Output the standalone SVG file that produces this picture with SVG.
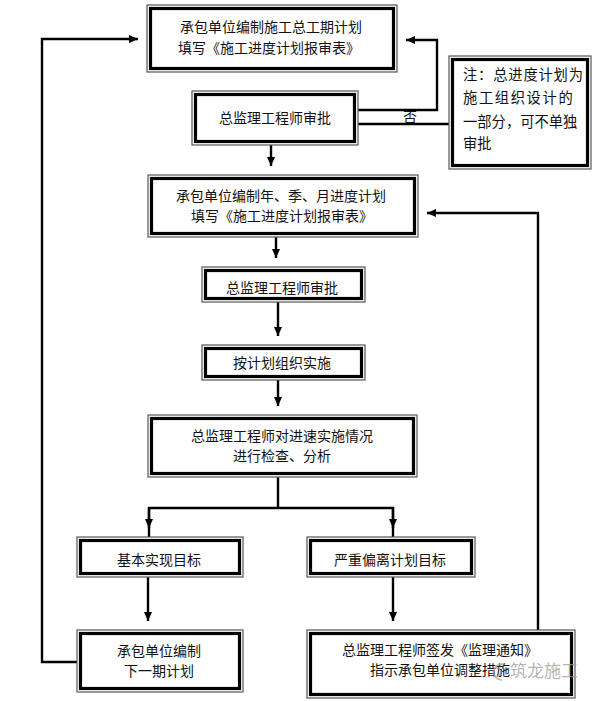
<svg xmlns="http://www.w3.org/2000/svg" width="599" height="701" viewBox="0 0 599 701">
<defs>
<style>
.o{fill:#fff;stroke:#555;stroke-width:1.2}
.i{fill:#fff;stroke:#000;stroke-width:3.2}
.t{font-family:"Noto Sans CJK SC","Noto Sans",sans-serif;font-size:14px;fill:#111;text-anchor:middle}
.n{font-family:"Noto Sans CJK SC","Noto Sans",sans-serif;font-size:14.3px;fill:#111}
.c{fill:none;stroke:#000;stroke-width:2.4}
.wm{font-family:"Noto Sans CJK SC","Noto Sans",sans-serif;font-size:17px;fill:#9a9a9a;fill-opacity:0.75}
</style>
<marker id="ah" markerUnits="userSpaceOnUse" markerWidth="10" markerHeight="10" refX="9" refY="5" orient="auto">
<path d="M0,1 L9,5 L0,9 Z" fill="#000"/>
</marker>
</defs>
<rect width="599" height="701" fill="#fff"/>
<g id="connectors">
<path class="c" d="M271,145 V166" marker-end="url(#ah)"/>
<path class="c" d="M358,110 H437 V40 H406" marker-end="url(#ah)"/>
<path class="c" d="M358,124 H450"/>
<path class="c" d="M276,237 V258" marker-end="url(#ah)"/>
<path class="c" d="M278,302 V336" marker-end="url(#ah)"/>
<path class="c" d="M278,380 V406" marker-end="url(#ah)"/>
<path class="c" d="M278,477 V508"/>
<path class="c" d="M149,537 V508 H393 V537"/>
<path class="c" d="M149,508 V528" marker-end="url(#ah)"/>
<path class="c" d="M393,508 V528" marker-end="url(#ah)"/>
<path class="c" d="M148,577 V621" marker-end="url(#ah)"/>
<path class="c" d="M393,577 V621" marker-end="url(#ah)"/>
<path class="c" d="M77,662 H42 V39 H138" marker-end="url(#ah)"/>
<path class="c" d="M538,630 V213 H427" marker-end="url(#ah)"/>
<text class="t" x="410" y="122">否</text>
</g>
<g id="n1">
<rect class="o" x="147" y="5" width="250" height="67"/>
<rect class="i" x="150.5" y="8.5" width="243" height="60"/>
<text class="t" x="271" y="32">承包单位编制施工总工期计划</text>
<text class="t" x="269" y="53">填写《施工进度计划报审表》</text>
</g>
<g id="n2">
<rect class="o" x="192" y="91" width="166" height="54"/>
<rect class="i" x="195.5" y="94.5" width="159" height="47"/>
<text class="t" x="275" y="123">总监理工程师审批</text>
</g>
<g id="note">
<rect class="o" x="449" y="56" width="142" height="113"/>
<rect class="i" x="452.5" y="59.5" width="135" height="106"/>
<text class="n" x="463" y="80" letter-spacing="0.8">注：总进度计划为</text>
<text class="n" x="463" y="103" letter-spacing="1.6">施工组织设计的</text>
<text class="n" x="463" y="127">一部分，可不单独</text>
<text class="n" x="463" y="149">审批</text>
</g>
<g id="n3">
<rect class="o" x="148" y="175" width="270" height="62"/>
<rect class="i" x="151.5" y="178.5" width="263" height="55"/>
<text class="t" x="281" y="201">承包单位编制年、季、月进度计划</text>
<text class="t" x="282" y="221">填写《施工进度计划报审表》</text>
</g>
<g id="n4">
<rect class="o" x="202" y="267" width="163" height="35"/>
<rect class="i" x="205.5" y="270.5" width="156" height="28"/>
<text class="t" x="282" y="293">总监理工程师审批</text>
</g>
<g id="n5">
<rect class="o" x="202" y="345" width="163" height="35"/>
<rect class="i" x="205.5" y="348.5" width="156" height="28"/>
<text class="t" x="282" y="368">按计划组织实施</text>
</g>
<g id="n6">
<rect class="o" x="148" y="415" width="269" height="62"/>
<rect class="i" x="151.5" y="418.5" width="262" height="55"/>
<text class="t" x="282" y="441">总监理工程师对进速实施情况</text>
<text class="t" x="282" y="461">进行检查、分析</text>
</g>
<g id="n7">
<rect class="o" x="77" y="537" width="166" height="40"/>
<rect class="i" x="80.5" y="540.5" width="159" height="33"/>
<text class="t" x="159" y="565">基本实现目标</text>
</g>
<g id="n8">
<rect class="o" x="307" y="537" width="168" height="40"/>
<rect class="i" x="310.5" y="540.5" width="161" height="33"/>
<text class="t" x="390" y="565">严重偏离计划目标</text>
</g>
<g id="n9">
<rect class="o" x="77" y="630" width="166" height="62"/>
<rect class="i" x="80.5" y="633.5" width="159" height="55"/>
<text class="t" x="159" y="656">承包单位编制</text>
<text class="t" x="159" y="676">下一期计划</text>
</g>
<g id="n10">
<rect class="o" x="307" y="630" width="268" height="68"/>
<rect class="i" x="310.5" y="633.5" width="261" height="61"/>
<text class="t" x="440" y="655">总监理工程师签发《监理通知》</text>
<text class="t" x="440" y="675">指示承包单位调整措施</text>
</g>
<g id="watermark">
<path d="M503,664 A9,8 0 1 0 502,680 M496,668 A4,4 0 1 1 497,676" fill="none" stroke="#9a9a9a" stroke-opacity="0.75" stroke-width="1.5"/>
<text class="wm" x="510" y="677">筑龙施工</text>
</g>
</svg>
